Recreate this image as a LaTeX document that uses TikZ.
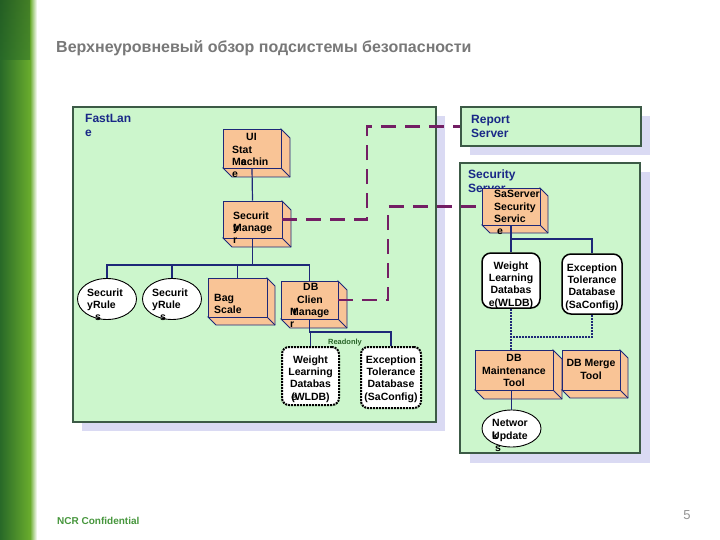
\documentclass[tikz,border=0pt]{standalone}
\usepackage{fontspec}
\setmainfont{Liberation Sans}
\usetikzlibrary{shapes.geometric,fit}
\definecolor{bggreen}{RGB}{204,246,204}
\definecolor{boxedge}{RGB}{60,90,70}
\definecolor{shadowc}{RGB}{218,218,243}
\definecolor{peach}{RGB}{249,196,150}
\definecolor{navy}{RGB}{30,40,120}
\definecolor{labblue}{RGB}{25,40,135}
\definecolor{purp}{RGB}{115,30,100}
\definecolor{titlegray}{RGB}{120,120,120}
\definecolor{ncrgreen}{RGB}{70,150,60}
\definecolor{rogreen}{RGB}{40,100,40}
\definecolor{stripdark}{RGB}{40,105,40}
\definecolor{striplight}{RGB}{105,172,45}
\tikzset{
  panel/.style={draw=boxedge, line width=1.2pt, fill=bggreen, inner sep=0pt},
  shadowbox/.style={fill=shadowc},
  facebox/.style={draw=navy, line width=0.9pt, fill=peach, inner sep=0pt},
  boxtxt/.style={font=\bfseries\fontsize{10.5}{12.3}\selectfont, inner sep=0pt, align=left, text=black},
  boxtxtc/.style={boxtxt, align=center},
  paneltxt/.style={font=\bfseries\fontsize{12}{14}\selectfont, inner sep=0pt, align=left, text=labblue},
  tree/.style={draw=navy, line width=1.2pt},
  dashlink/.style={draw=purp, line width=2.4pt, dash pattern=on 15pt off 9pt},
  dotlink/.style={draw=navy, line width=2.8pt, dash pattern=on 2pt off 1pt},
  rulenode/.style={ellipse, draw=black, line width=0.9pt, fill=white, minimum width=59pt, minimum height=41pt, inner sep=0pt},
  dbdotted/.style={draw=black, line width=2pt, dash pattern=on 2pt off 1pt, rounded corners=7pt, fill=white, inner sep=0pt},
  dbsolid/.style={draw=black, line width=1.5pt, rounded corners=9pt, fill=white, inner sep=0pt}
}
% name, left, top, right, bottom, depth
\newcommand{\cubebox}[6]{%
  \filldraw[facebox] (#4,#3) -- (#4+#6,#3+#6) -- (#4+#6,#5+#6) -- (#2+#6,#5+#6) -- (#2,#5) -- (#4,#5) -- cycle;
  \draw[facebox] (#4,#5) -- (#4+#6,#5+#6);
  \node[facebox, fit={(#2,#3) (#4,#5)}] (#1) {};
}
\begin{document}
\begin{tikzpicture}[x=1pt,y=-1pt]
\useasboundingbox (0,0) rectangle (720,540);
\fill[white] (0,0) rectangle (720,540);
% left strip
\shade[left color=stripdark, right color=striplight] (0,0) rectangle (30,540);
\shade[left color=striplight, right color=white] (30,0) rectangle (37,540);
\shade[top color=stripdark!80!black, bottom color=stripdark, opacity=0.5] (0,0) rectangle (30,60);

% title & footer
\node[anchor=west, text=titlegray, font=\bfseries\fontsize{16}{18}\selectfont, inner sep=0pt] (title) at (56,48) {Верхнеуровневый обзор подсистемы безопасности};
\node[anchor=west, text=ncrgreen, font=\bfseries\fontsize{10}{12}\selectfont, inner sep=0pt] (conf) at (57,521) {NCR Confidential};
\node[text=titlegray!80, font=\fontsize{13}{15}\selectfont, inner sep=0pt] (pg) at (687,515) {5};

% shadows
\fill[shadowbox] (82,116) rectangle (445,431);
\fill[shadowbox] (470,116) rectangle (650,155);
\fill[shadowbox] (470,172) rectangle (650,463);

% panels
\node[panel, fit={(73,107) (436,422)}] (fl) {};
\node[panel, fit={(461,107) (641,146)}] (rs) {};
\node[panel, fit={(460,163) (640,453)}] (ss) {};
\node[paneltxt, anchor=north west] (flt) at (85,114.5) {FastLan\\e};
\node[paneltxt, anchor=north west] (rst) at (471,115.5) {Report\\Server};
\node[paneltxt, anchor=north west] (sst) at (468,169.5) {Security\\Server};

% FastLane components
\cubebox{ui}{223}{129}{281}{168}{9}
\cubebox{sm}{223}{201}{282}{238}{9}
\cubebox{bag}{208}{278}{267}{317}{8}
\cubebox{dbc}{281}{281}{338}{319}{9}
\node[rulenode] (sr1) at (107,299) {};
\node[rulenode] (sr2) at (172,299) {};
\node[dbdotted, fit={(282,347) (339,405)}] (wl1) {};
\node[dbdotted, fit={(361,347) (421,408)}] (ex1) {};

% Security server components
\cubebox{sss}{482}{188}{540}{225}{8}
\node[dbsolid, fit={(482,253) (540,308)}] (wl2) {};
\node[dbsolid, fit={(562,254) (622,314)}] (ex2) {};
\cubebox{dbm}{475}{350}{553}{390}{9}
\cubebox{dbmerge}{562}{350}{620}{390}{8}
\node[rulenode, minimum height=37pt] (net) at (511.5,428.5) {};

% tree connectors
\coordinate (bus) at (0,265);
\coordinate (bus2) at (0,332);
\coordinate (bus3) at (0,239);
\coordinate (bus4) at (0,337);
\draw[tree] (ui.south) -- (sm.north);
\draw[tree] (sm.south) -- (sm.south |- bus);
\draw[tree] (sr1.north) -- (sr1.north |- bus) -- (dbc.north |- bus) -- (dbc.north);
\draw[tree] (sr2.north) -- (sr2.north |- bus);
\draw[tree] (bag.north) -- (bag.north |- bus);
\draw[tree] (dbc.south) -- (dbc.south |- bus2) -| (ex1.north);
\draw[tree] (wl1.north) -- (wl1.north |- bus2);
\draw[tree] (sss.south) -- (wl2.north);
\draw[tree] (sss.south |- bus3) -| (ex2.north);
\draw[dotlink] (wl2.south) -- (wl2.south |- dbm.north);
\draw[dotlink] (ex2.south) |- (wl2.south |- bus4);
\draw[tree] (net.north |- dbm.south) -- (net.north);

% dashed links
\coordinate (j1) at (367,0);
\coordinate (j2) at (388,0);
\draw[dashlink] (sm.east) -| (j1 |- rs.west) -- (rs.west);
\draw[dashlink] (dbc.east) -| (j2 |- sss.west) -- (sss.west);

% texts
\node[boxtxt, anchor=north west] (uit) at (232,133.3) {\hspace*{14pt}UI\\Stat\\M\rlap{e}achin\\e};
\node[boxtxt, anchor=north west] (smt) at (233,211.3) {Securit\\\rlap{y}Manage\\r};
\node[boxtxt, anchor=north west] (bagt) at (214,293.8) {Bag\\Scale};
\node[boxtxt, anchor=north west] (dbct) at (290,283.3) {\hspace*{13pt}DB\\\hspace*{7pt}Clien\\\rlap{\hspace*{3pt}t}Manage\\r};
\node[boxtxt, anchor=north west] (sr1t) at (87,288.3) {Securit\\yRule\\\hspace*{8pt}s};
\node[boxtxt, anchor=north west] (sr2t) at (152,288.3) {Securit\\yRule\\\hspace*{8pt}s};
\node[boxtxtc, anchor=north] (wl1t) at (310.5,355.3) {Weight\\Learning\\Databas\\\rlap{e}(WLDB)};
\node[boxtxtc, anchor=north] (ex1t) at (391,355.3) {Exception\\Tolerance\\Database\\(SaConfig)};
\node[text=rogreen, font=\bfseries\fontsize{7.5}{9}\selectfont, inner sep=0pt] (ro) at (345,343) {Readonly};
\node[boxtxt, anchor=north west] (ssst) at (494,190.3) {SaServer\\Security\\Servic\\\hspace*{3pt}e};
\node[boxtxtc, anchor=north] (wl2t) at (511,261.3) {Weight\\Learning\\Databas\\e(WLDB)};
\node[boxtxtc, anchor=north] (ex2t) at (592,263.3) {Exception\\Tolerance\\Database\\(SaConfig)};
\node[boxtxtc, anchor=north] (dbmt) at (514,354.3) {DB\\Maintenance\\Tool};
\node[boxtxtc, anchor=north] (dbmerget) at (591,359.3) {DB Merge\\Tool};
\node[boxtxt, anchor=north west] (nett) at (492,419.3) {Networ\\\rlap{k}Update\\\hspace*{3pt}s};
\end{tikzpicture}
\end{document}
